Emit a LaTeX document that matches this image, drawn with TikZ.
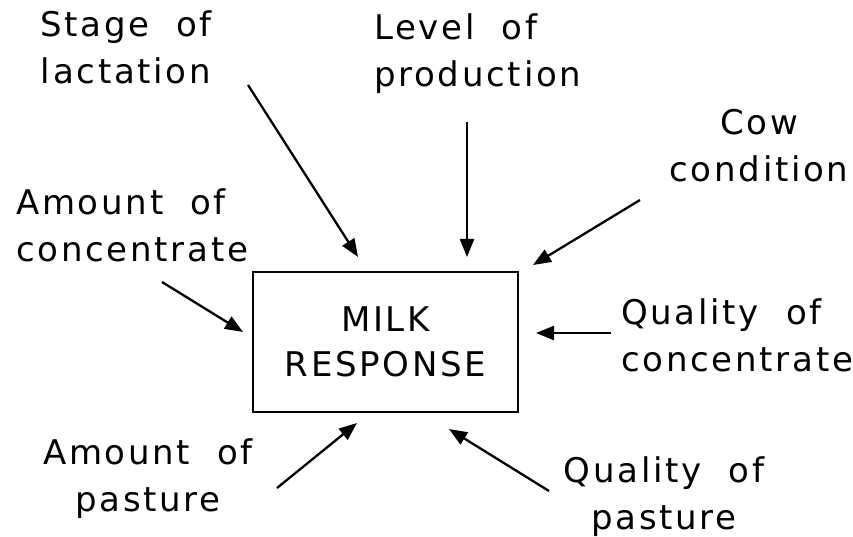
\documentclass[tikz,border=0pt]{standalone}
\usepackage{fontspec}
\setmainfont{DejaVu Sans}[LetterSpace=8,WordSpace=2]
\usetikzlibrary{arrows, arrows.meta}
\usetikzlibrary{calc}

\begin{document}
\begin{tikzpicture}[x=1pt, y=-1pt,
    factor/.style={inner sep=0pt, font=\fontsize{34}{47}\selectfont},
    effect/.style={line width=2.3pt, -{Triangle[length=18pt, width=14pt]}}]
    \useasboundingbox (0,0) rectangle (853,537);

    \node[draw, line width=1.8pt, minimum width=265pt, minimum height=140pt, align=center,
          font=\fontsize{34}{45}\selectfont] (milk) at (385.5,342) {MILK\\RESPONSE};

    \node[factor, align=center] (stage) at (126,47.5) {Stage of\\lactation};
    \node[factor, align=left, anchor=west] (level) at (374,54) {Level of\\production};
    \node[factor, align=center] (cow) at (759,145.5) {Cow\\condition};
    \node[factor, align=left, anchor=west] (amtconc) at (16,225.5) {Amount of\\concentrate};
    \node[factor, align=left, anchor=west] (qualconc) at (621,335.5) {Quality of\\concentrate};
    \node[factor, align=center] (amtpast) at (148,479) {Amount of\\pasture};
    \node[factor, align=center] (qualpast) at (664,497) {Quality of\\pasture};

    % arrow tails and heads
    \coordinate (t1) at (248,85);   \coordinate (h1) at (358,257);
    \coordinate (t2) at (467,122);  \coordinate (h2) at (467,257);
    \coordinate (t3) at (640,200);  \coordinate (h3) at (533,265);
    \coordinate (t4) at (162,282);  \coordinate (h4) at (243,332);
    \coordinate (t5) at (611,333);  \coordinate (h5) at (536,333);
    \coordinate (t6) at (277,488);  \coordinate (h6) at (357,423);
    \coordinate (t7) at (549,491);  \coordinate (h7) at (449,429);

    \draw[effect] (t1) -- (h1);
    \draw[effect] (t2) -- (h2);
    \draw[effect] (t3) -- (h3);
    \draw[effect] (t4) -- (h4);
    \draw[effect] (t5) -- (h5);
    \draw[effect] (t6) -- (h6);
    \draw[effect] (t7) -- (h7);
  \end{tikzpicture}
\end{document}
